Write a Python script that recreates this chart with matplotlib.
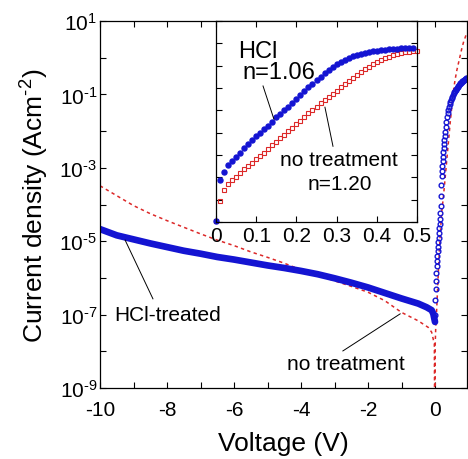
import numpy as np
import matplotlib
matplotlib.use('Agg')
import matplotlib.pyplot as plt

plt.rcParams['font.family'] = ['Liberation Sans', 'DejaVu Sans']
plt.rcParams['mathtext.fontset'] = 'custom'
plt.rcParams['mathtext.rm'] = 'Liberation Sans'
plt.rcParams['mathtext.it'] = 'Liberation Sans:italic'
plt.rcParams['mathtext.bf'] = 'Liberation Sans:bold'
plt.rcParams['axes.unicode_minus'] = False

blue = '#1414d2'
red = '#dc2828'

# main plot, log10 of current density (A/cm2)
v_hcl_rev = [-10, -9.5, -9, -8.5, -8, -7.5, -7, -6.5, -6, -5.5, -5, -4.5, -4, -3.5,
             -3, -2.5, -2, -1.5, -1, -0.5, -0.25, -0.1, -0.05, 0]
lj_hcl_rev = [-4.67, -4.84, -4.95, -5.06, -5.16, -5.26, -5.34, -5.43, -5.50, -5.58,
              -5.66, -5.73, -5.81, -5.90, -6.01, -6.13, -6.26, -6.41, -6.56, -6.70,
              -6.80, -6.88, -6.98, -7.20]

v_hcl_fwd = [0.00, 0.01, 0.02, 0.03, 0.04, 0.05, 0.06, 0.07, 0.08, 0.09, 0.10, 0.11,
             0.12, 0.13, 0.14, 0.15, 0.16, 0.17, 0.18, 0.19, 0.20, 0.21, 0.22, 0.23,
             0.24, 0.25, 0.26, 0.27, 0.28, 0.29, 0.30, 0.32, 0.34, 0.36, 0.38, 0.40,
             0.42, 0.44, 0.46, 0.48, 0.50, 0.52, 0.54, 0.56, 0.58, 0.60, 0.62, 0.64,
             0.66, 0.68, 0.70, 0.72, 0.74, 0.76, 0.78, 0.80, 0.82, 0.84, 0.86, 0.88,
             0.90, 0.92, 0.94, 0.96]
lj_hcl_fwd = [-7.00, -6.60, -6.30, -6.08, -5.87, -5.67, -5.54, -5.41, -5.28, -5.15,
              -5.03, -4.90, -4.78, -4.65, -4.52, -4.40, -4.22, -4.03, -3.76, -3.48,
              -3.21, -3.08, -2.95, -2.82, -2.70, -2.58, -2.46, -2.35, -2.24, -2.13,
              -2.03, -1.88, -1.74, -1.62, -1.51, -1.42, -1.34, -1.26, -1.20, -1.15,
              -1.10, -1.06, -1.01, -0.97, -0.93, -0.90, -0.87, -0.84, -0.82, -0.79,
              -0.76, -0.74, -0.72, -0.70, -0.68, -0.66, -0.64, -0.63, -0.61, -0.60,
              -0.58, -0.57, -0.56, -0.55]

v_none = [-10, -9.5, -9, -8.5, -8, -7.5, -7, -6.5, -6, -5.5, -5, -4.5, -4, -3.5, -3,
          -2.5, -2, -1.5, -1, -0.5, -0.2, -0.1, -0.02, 0, 0.005, 0.02, 0.05, 0.1,
          0.15, 0.2, 0.25, 0.3, 0.35, 0.4, 0.45, 0.5, 0.55, 0.6, 0.65, 0.7, 0.75,
          0.8, 0.85, 0.9, 0.95]
lj_none = [-3.49, -3.76, -4.03, -4.25, -4.44, -4.62, -4.80, -4.97, -5.12, -5.29,
           -5.44, -5.60, -5.78, -5.93, -6.08, -6.23, -6.39, -6.62, -6.94, -7.17,
           -7.35, -7.48, -7.80, -12.0, -7.85, -7.40, -6.85, -5.85, -4.90, -4.20,
           -3.80, -3.30, -2.80, -2.30, -1.80, -1.35, -0.90, -0.60, -0.35, -0.15,
           0.05, 0.25, 0.42, 0.55, 0.68]

# inset, 0 - 0.5 V
v_in_hcl = np.round(np.arange(0, 0.495, 0.01), 2)
lj_in_hcl = [-8.94, -7.12, -6.74, -6.46, -6.28, -6.08, -5.89, -5.67, -5.49, -5.31,
             -5.14, -5.01, -4.84, -4.69, -4.50, -4.32, -4.16, -3.99, -3.83, -3.66,
             -3.50, -3.33, -3.14, -2.97, -2.81, -2.65, -2.50, -2.35, -2.21, -2.06,
             -1.94, -1.82, -1.73, -1.64, -1.57, -1.52, -1.48, -1.42, -1.39, -1.36,
             -1.35, -1.32, -1.29, -1.26, -1.25, -1.24, -1.23, -1.22, -1.21, -1.20]
v_in_none = np.round(np.arange(0, 0.505, 0.01), 2)
lj_in_none = [-8.94, -8.06, -7.58, -7.32, -7.14, -6.97, -6.80, -6.64, -6.49, -6.34,
              -6.19, -6.05, -5.89, -5.72, -5.56, -5.43, -5.26, -5.10, -4.93, -4.77,
              -4.62, -4.47, -4.29, -4.11, -3.98, -3.83, -3.69, -3.54, -3.41, -3.29,
              -3.12, -2.97, -2.83, -2.68, -2.54, -2.41, -2.29, -2.17, -2.05, -1.94,
              -1.84, -1.73, -1.67, -1.60, -1.54, -1.48, -1.43, -1.41, -1.38, -1.35,
              -1.33]

fig = plt.figure(figsize=(4.68, 4.60), dpi=100)
ax = fig.add_axes([100/468, 1-389/460, 367/468, 367/460])

ax.plot(v_none, 10**np.array(lj_none), color=red, lw=1.1, ls=(0, (2.2, 2.2)))
ax.plot(v_hcl_rev, 10**np.array(lj_hcl_rev), color=blue, lw=4.8, solid_capstyle='round')
ax.plot(v_hcl_fwd, 10**np.array(lj_hcl_fwd), ls='none', marker='o', ms=3.4,
        mfc='none', mec=blue, mew=1.0)

ax.set_yscale('log')
ax.set_xlim(-10, 0.955)
ax.set_ylim(1e-9, 1e1)
ax.set_xticks([-10, -8, -6, -4, -2, 0])
ax.set_xticks([-9, -7, -5, -3, -1], minor=True)
ax.set_yticks([10.0**e for e in [1, -1, -3, -5, -7, -9]])
ax.set_yticklabels([r'10$^{\text{%d}}$' % e for e in [1, -1, -3, -5, -7, -9]])
ax.set_yticks([10.0**e for e in [0, -2, -4, -6, -8]], minor=True)
ax.yaxis.set_minor_formatter(matplotlib.ticker.NullFormatter())
ax.tick_params(which='both', direction='in', top=True, right=True,
               length=4.5, width=0.8, labelsize=15)
ax.tick_params(axis='x', pad=9)
ax.tick_params(axis='y', pad=2)
for s in ax.spines.values():
    s.set_linewidth(0.9)
ax.set_xlabel('Voltage (V)', fontsize=19, labelpad=8)
ax.set_ylabel(r'Current density (Acm$^{\text{-2}}$)', fontsize=19, labelpad=6)

ax.text(-7.97, 10**-7.0, 'HCl-treated', fontsize=15, ha='center', va='center')
ax.plot([-8.42, -9.25], [10**-6.57, 10**-4.97], color='k', lw=0.7)
ax.text(-2.66, 10**-8.32, 'no treatment', fontsize=15, ha='center', va='center')
ax.plot([-2.75, -1.04], [10**-7.99, 10**-6.98], color='k', lw=0.7)

# inset
ins = fig.add_axes([216/468, 1-223/460, 201/468, 201/460])
ins.set_facecolor('white')
ins.plot(v_in_none, 10**np.array(lj_in_none), ls='none', marker='s', ms=3.2,
         mfc='none', mec=red, mew=0.8, clip_on=False)
ins.plot(v_in_hcl, 10**np.array(lj_in_hcl), ls='none', marker='o', ms=3.6,
         color=blue, clip_on=False)
ins.set_yscale('log')
ins.set_xlim(0, 0.5)
ins.set_ylim(1e-9, 1e0)
ins.set_xticks([0, 0.1, 0.2, 0.3, 0.4, 0.5])
ins.set_xticklabels(['0', '0.1', '0.2', '0.3', '0.4', '0.5'])
ins.set_yticks([10.0**e for e in range(-9, 1)])
ins.yaxis.set_major_formatter(matplotlib.ticker.NullFormatter())
ins.yaxis.set_minor_locator(matplotlib.ticker.NullLocator())
ins.tick_params(which='both', direction='in', top=True, right=True,
                length=4.5, width=0.8, labelsize=15, pad=3)
for s in ins.spines.values():
    s.set_linewidth(0.9)

ins.text(0.104, 10**-1.35, 'HCl', fontsize=17, ha='center', va='center')
ins.text(0.157, 10**-2.29, 'n=1.06', fontsize=17, ha='center', va='center')
ins.plot([0.117, 0.144], [10**-2.91, 10**-4.39], color='k', lw=0.7)
ins.text(0.306, 10**-6.19, 'no treatment', fontsize=15, ha='center', va='center')
ins.text(0.308, 10**-7.26, 'n=1.20', fontsize=15, ha='center', va='center')
ins.plot([0.291, 0.271], [10**-5.61, 10**-3.86], color='k', lw=0.7)

fig.savefig('out.png', dpi=100)
